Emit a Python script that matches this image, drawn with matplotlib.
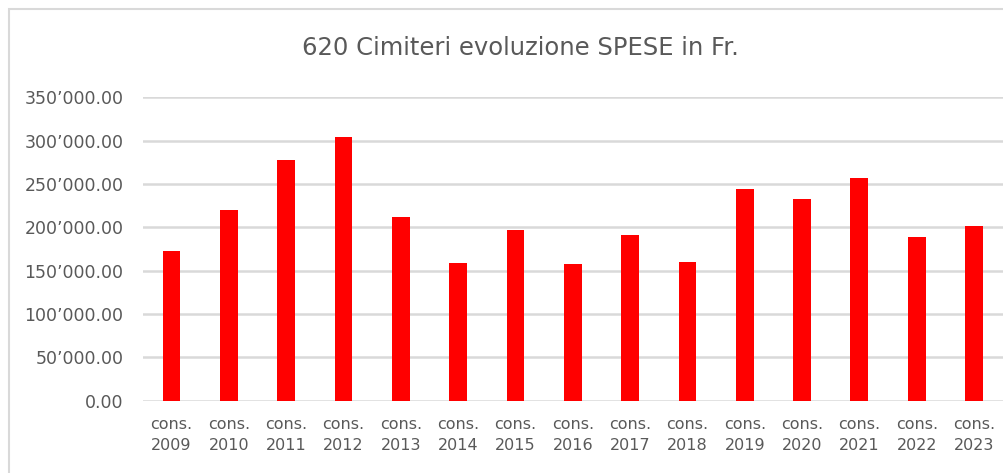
import matplotlib

matplotlib.use("Agg")
import matplotlib.pyplot as plt
from matplotlib.patches import Rectangle
from matplotlib.ticker import FuncFormatter

TITLE = "620 Cimiteri evoluzione SPESE in Fr."
YEARS = [2009, 2010, 2011, 2012, 2013, 2014, 2015, 2016,
         2017, 2018, 2019, 2020, 2021, 2022, 2023]
SPESE = [172700, 220400, 278000, 304000, 212300, 158500, 197400, 157600,
         190600, 160200, 244200, 232400, 256600, 188600, 201100]
Y_TICKS = [0, 50000, 100000, 150000, 200000, 250000, 300000, 350000]

TEXT_COLOR = "#595959"
GRID_COLOR = "#d9d9d9"
BAR_COLOR = "#ff0000"


def swiss_format(value, _pos=None):
    text = f"{value:,.2f}"
    return text.replace(",", "\u2019")


def main() -> None:
    plt.rcParams["font.family"] = ["DejaVu Sans"]

    fig = plt.figure(figsize=(10.04, 4.73), dpi=100)
    ax = fig.add_axes([0.1422, 0.1529, 0.8565, 0.6414])

    # light chart border, as in the spreadsheet export
    fig.patches.append(
        Rectangle((9 / 1004, -0.1), 1.2, 1.1 - 9 / 473 + 0.001,
                  transform=fig.transFigure, fill=False,
                  edgecolor=GRID_COLOR, linewidth=1.5)
    )

    positions = range(len(YEARS))
    ax.bar(positions, SPESE, width=0.31, color=BAR_COLOR, zorder=3)

    ax.set_xlim(-0.5, len(YEARS) - 0.5)
    ax.set_ylim(0, 350000)
    ax.set_yticks(Y_TICKS)
    ax.yaxis.set_major_formatter(FuncFormatter(swiss_format))
    ax.set_xticks(list(positions))
    ax.set_xticklabels([f"cons.\n{year}" for year in YEARS], linespacing=1.45)

    ax.grid(True, axis="y", color=GRID_COLOR, linewidth=1.8, zorder=0)
    for spine in ax.spines.values():
        spine.set_visible(False)
    ax.tick_params(axis="both", length=0, labelsize=11.5, colors=TEXT_COLOR)
    ax.tick_params(axis="y", pad=14, labelsize=12.5)
    ax.tick_params(axis="x", pad=12)

    fig.text(0.518, 1 - 48 / 473, TITLE, ha="center", va="center",
             fontsize=17.5, color=TEXT_COLOR)

    fig.savefig("out.png", dpi=100)
    plt.close(fig)


if __name__ == "__main__":
    main()
